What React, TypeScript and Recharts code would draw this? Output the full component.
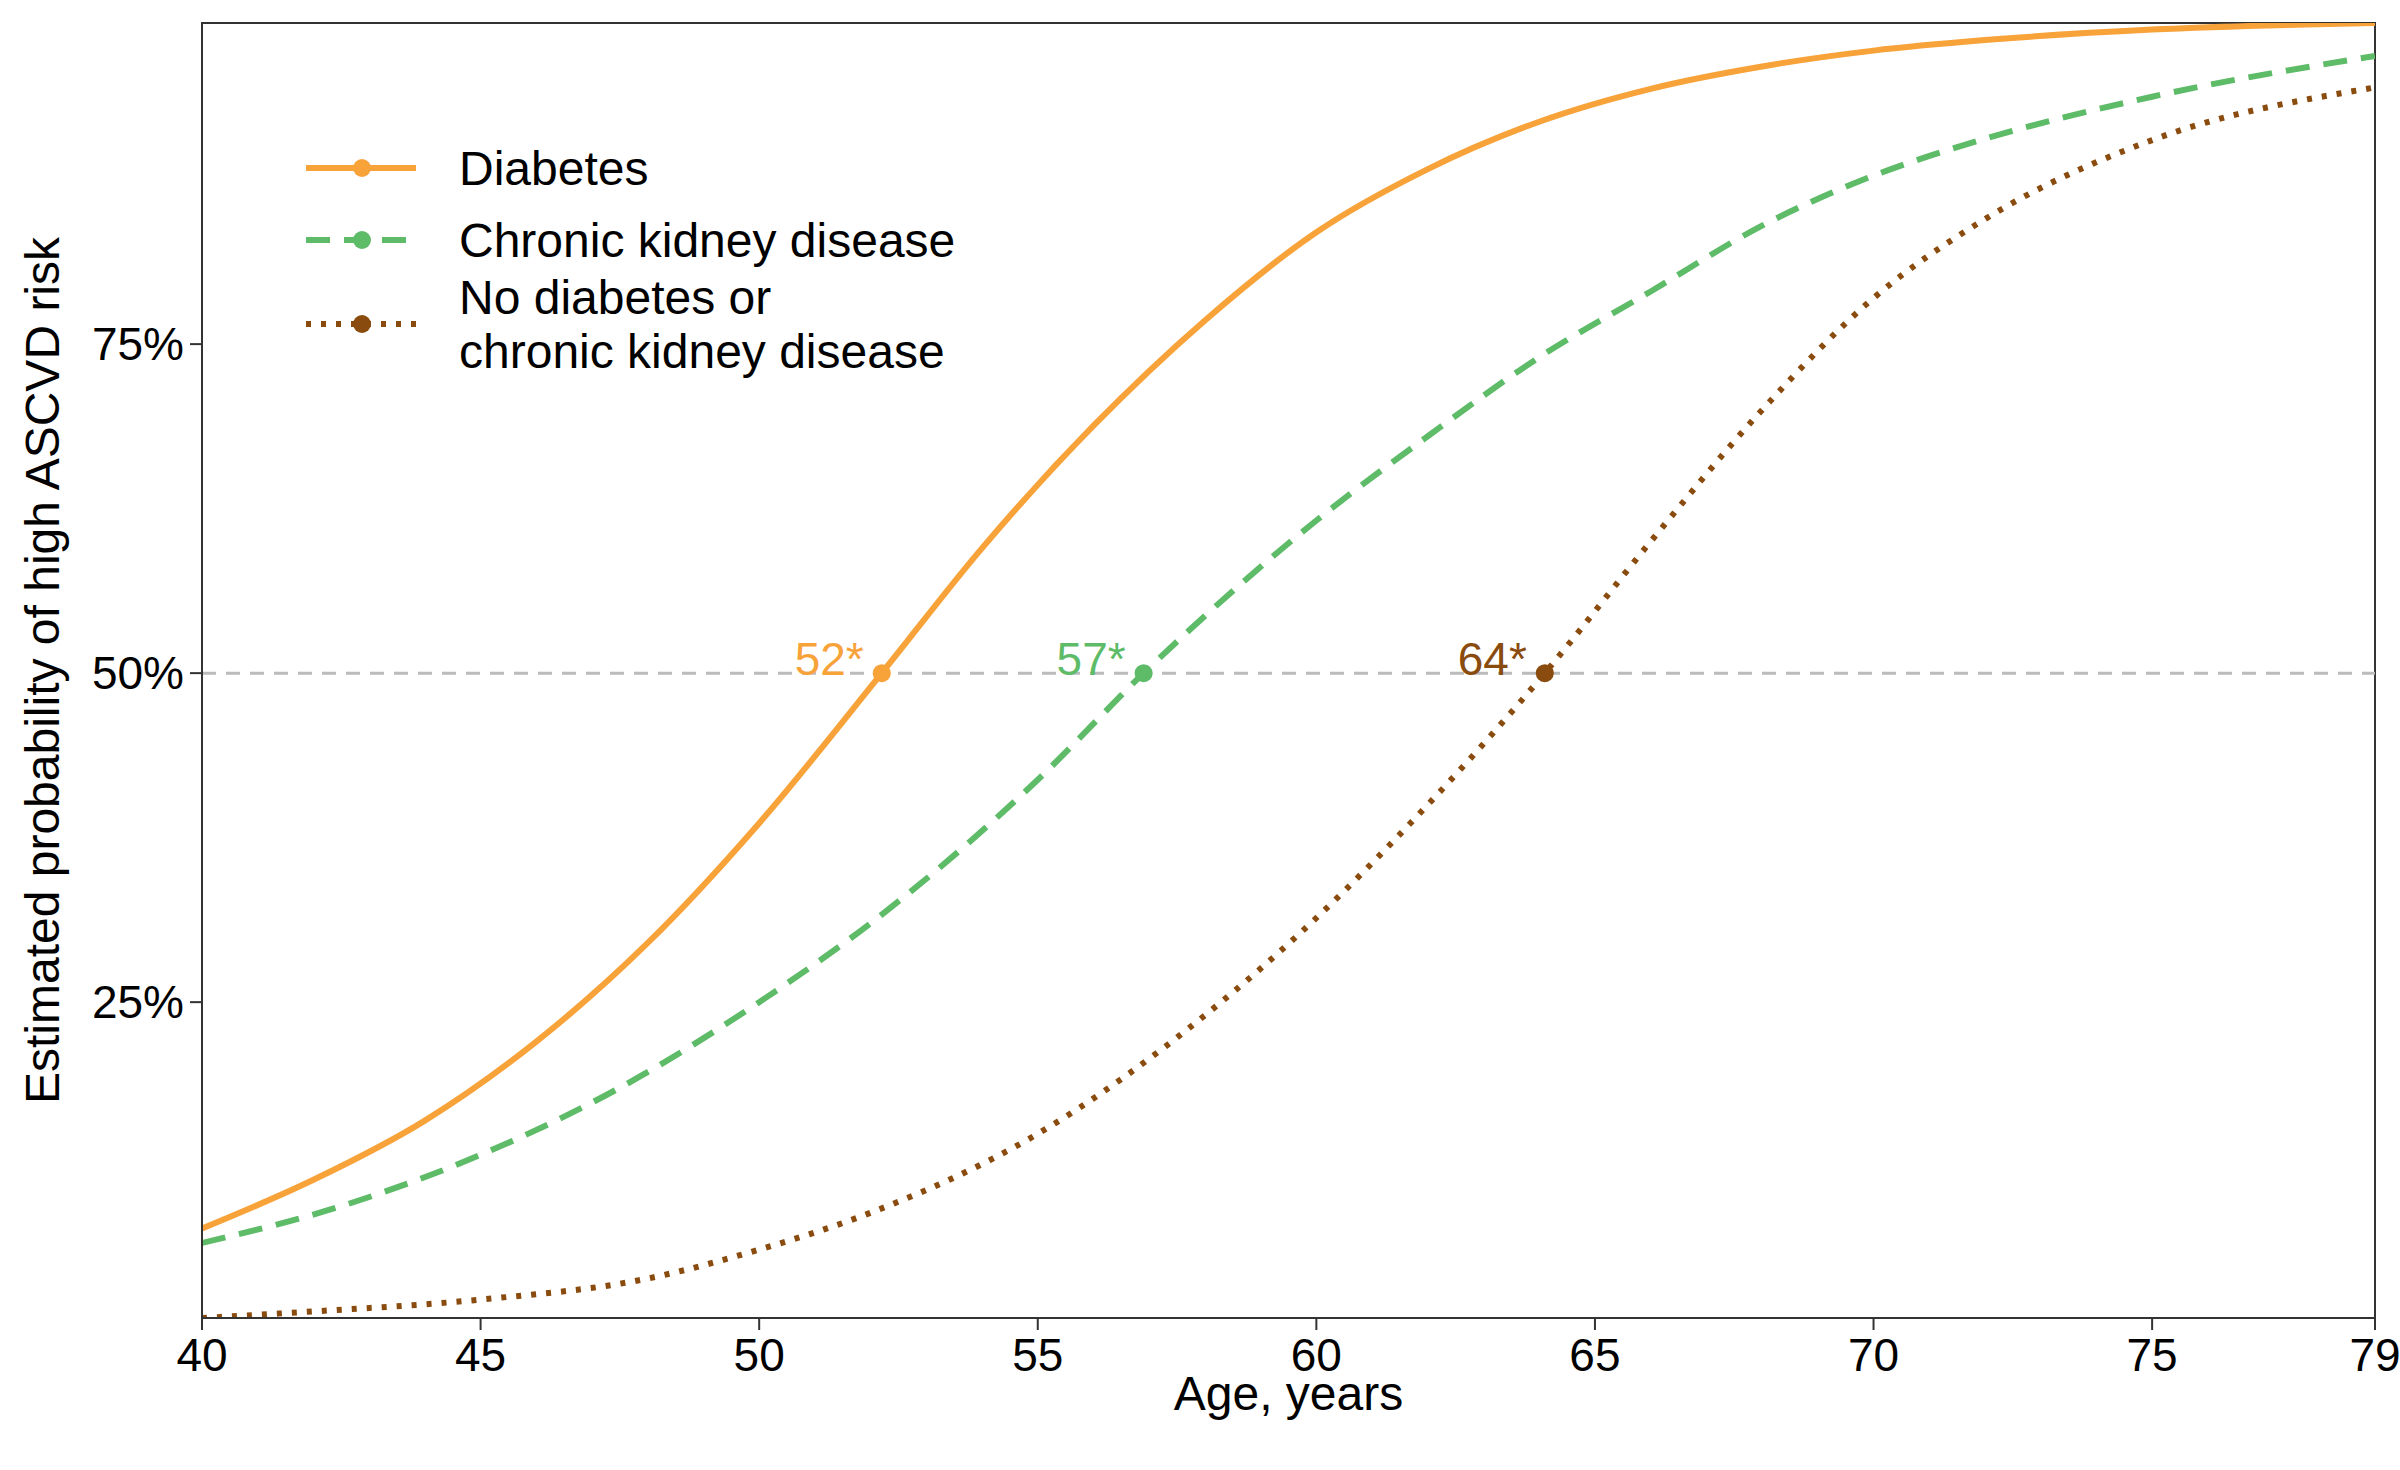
import React from 'react';
import { ComposedChart, Line, XAxis, YAxis, ReferenceLine, ReferenceDot, ReferenceArea } from 'recharts';

const diabetesAge = [40, 42, 44, 46, 48, 50, 52.2, 54, 56, 58, 60, 62, 64, 66, 68, 70, 72, 75, 79];
const diabetesVal = [7.8, 11.5, 16, 22, 29.5, 38.6, 50, 59.5, 68.8, 76.8, 83.5, 88.3, 91.9, 94.4, 96.1, 97.3, 98.1, 98.9, 99.4];
const ckdAge = [40, 42.5, 45, 47.5, 50, 52, 55, 56.9, 60, 62, 64, 66, 68, 70, 72, 75, 79];
const ckdVal = [6.7, 9.5, 13.4, 18.5, 25, 31, 41.9, 50, 61.6, 68, 74, 79, 84, 87.8, 90.6, 93.8, 96.9];
const noAge = [40, 42, 45, 48, 50, 52, 55, 58, 60, 62, 64.1, 66, 68, 70, 72, 75, 79];
const noVal = [1.0, 1.5, 2.4, 4.0, 6.2, 9, 15, 24, 31.4, 40, 50, 60, 70, 78.5, 84.5, 90.5, 94.5];
const xTicks = [40, 45, 50, 55, 60, 65, 70, 75, 79];
const yTicks = [25, 50, 75];

const data: any[] = [];
diabetesAge.forEach((a, i) => data.push({ age: a, d: diabetesVal[i] }));
ckdAge.forEach((a, i) => data.push({ age: a, c: ckdVal[i] }));
noAge.forEach((a, i) => data.push({ age: a, n: noVal[i] }));
data.sort((p, q) => p.age - q.age);

const ORANGE = '#F8A23A';
const GREEN = '#5EBB68';
const BROWN = '#8A4B0E';
const FONT = '"Liberation Sans", Arial, sans-serif';

const dots = [
  { x: 52.2, label: '52*', color: ORANGE },
  { x: 56.9, label: '57*', color: GREEN },
  { x: 64.1, label: '64*', color: BROWN },
];

const legendItems = [
  { color: ORANGE, dash: undefined, lines: ['Diabetes'], y: 168 },
  { color: GREEN, dash: '24 14', lines: ['Chronic kidney disease'], y: 240 },
  { color: BROWN, dash: '5 10', lines: ['No diabetes or', 'chronic kidney disease'], y: 324 },
];

export default function App() {
  return (
    <div style={{ position: 'absolute', left: 0, top: 0, width: 2400, height: 1470, background: '#fff', fontFamily: FONT }}>
      <ComposedChart width={2400} height={1470} data={data} margin={{ top: 23, right: 25, bottom: 122, left: 0 }}>
        <XAxis dataKey="age" type="number" domain={[40, 79]} ticks={xTicks} allowDataOverflow
          tick={{ fontSize: 46, fill: '#000', fontFamily: FONT }} tickSize={12} stroke="#333" strokeWidth={2}
          tickMargin={8}
          label={{ value: 'Age, years', position: 'insideBottom', offset: -62, fontSize: 48, fill: '#000', fontFamily: FONT }} />
        <YAxis type="number" domain={[1, 99.4]} ticks={yTicks} allowDataOverflow width={202}
          tickFormatter={(v) => v + '%'} tick={{ fontSize: 46, fill: '#000', fontFamily: FONT }} tickSize={12}
          stroke="#333" strokeWidth={2} tickMargin={6}
          label={{ value: 'Estimated probability of high ASCVD risk', angle: -90, position: 'insideLeft', offset: 42, style: { textAnchor: 'middle' }, fontSize: 48, fill: '#000', fontFamily: FONT }} />
        <ReferenceArea x1={40} x2={79} y1={1} y2={99.4} fill="none" stroke="#333" strokeWidth={2} />
        <ReferenceLine y={50} stroke="#bbb" strokeWidth={3} strokeDasharray="14 10" />
        <Line dataKey="d" stroke={ORANGE} strokeWidth={6} dot={false} connectNulls type="monotone" isAnimationActive={false} />
        <Line dataKey="c" stroke={GREEN} strokeWidth={6} strokeDasharray="24 14" dot={false} connectNulls type="monotone" isAnimationActive={false} />
        <Line dataKey="n" stroke={BROWN} strokeWidth={6} strokeDasharray="5 10" dot={false} connectNulls type="monotone" isAnimationActive={false} />
        {dots.map((d) => (
          <ReferenceDot key={d.label} x={d.x} y={50} r={9} fill={d.color} stroke="none"
            label={(props: any) => {
              const vb = props.viewBox || {};
              const cx = vb.x + (vb.width || 0) / 2;
              const cy = vb.y + (vb.height || 0) / 2;
              return <text x={cx - 18} y={cy + 2} textAnchor="end" fontSize={46} fill={d.color} fontFamily={FONT}>{d.label}</text>;
            }} />
        ))}
      </ComposedChart>
      <svg style={{ position: 'absolute', left: 0, top: 0 }} width={2400} height={1470} pointerEvents="none">
        {legendItems.map((it) => (
          <g key={it.color}>
            <line x1={306} x2={416} y1={it.y} y2={it.y} stroke={it.color} strokeWidth={6} strokeDasharray={it.dash} />
            <circle cx={362} cy={it.y} r={9} fill={it.color} />
            {it.lines.map((t, i) => (
              <text key={t} x={459} y={it.y + 17 + (it.lines.length === 2 ? (i === 0 ? -27 : 27) : 0)} fontSize={48} fill="#000" fontFamily={FONT}>{t}</text>
            ))}
          </g>
        ))}
      </svg>
    </div>
  );
}
